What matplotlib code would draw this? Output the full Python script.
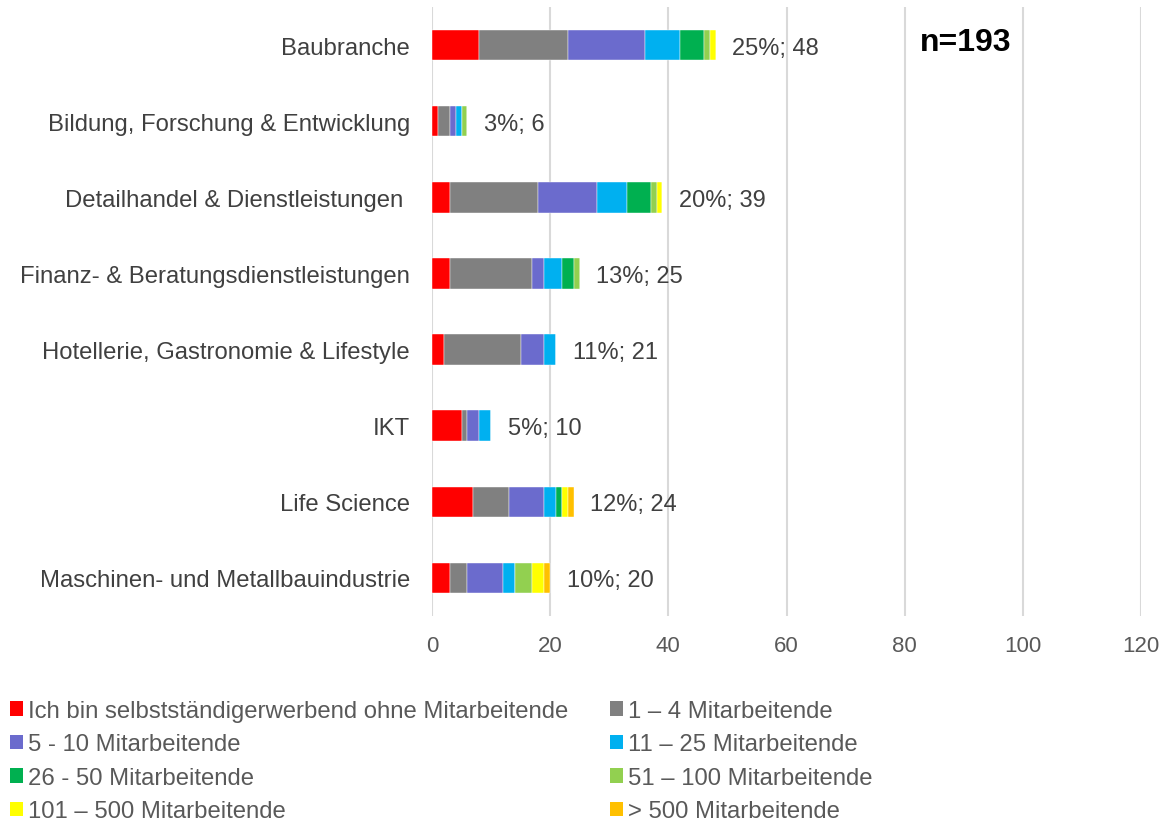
import numpy as np
import matplotlib
matplotlib.use("Agg")
from matplotlib import pyplot as plt
from matplotlib.patches import Patch

plt.rcParams['font.family'] = ['Liberation Sans', 'DejaVu Sans']

# Branchen (von oben nach unten)
branchen = ["Baubranche",
            "Bildung, Forschung & Entwicklung",
            "Detailhandel & Dienstleistungen ",
            "Finanz- & Beratungsdienstleistungen",
            "Hotellerie, Gastronomie & Lifestyle",
            "IKT",
            "Life Science",
            "Maschinen- und Metallbauindustrie"]

# Grössenklassen
klassen = ["Ich bin selbstständigerwerbend ohne Mitarbeitende",
           "1 – 4 Mitarbeitende",
           "5 - 10 Mitarbeitende",
           "11 – 25 Mitarbeitende",
           "26 - 50 Mitarbeitende",
           "51 – 100 Mitarbeitende",
           "101 – 500 Mitarbeitende",
           "> 500 Mitarbeitende"]

farben = ["#FF0000", "#808080", "#6B6BCD", "#00B0F0",
          "#00B050", "#92D050", "#FFFF00", "#FFC000"]

# Anzahl pro Branche und Grössenklasse
selbst   = [8, 1, 3, 3, 2, 5, 7, 3]
ma_1_4   = [15, 2, 15, 14, 13, 1, 6, 3]
ma_5_10  = [13, 1, 10, 2, 4, 2, 6, 6]
ma_11_25 = [6, 1, 5, 3, 2, 2, 2, 2]
ma_26_50 = [4, 0, 4, 2, 0, 0, 1, 0]
ma_51_100 = [1, 1, 1, 1, 0, 0, 0, 3]
ma_101_500 = [1, 0, 1, 0, 0, 0, 1, 2]
ma_500 = [0, 0, 0, 0, 0, 0, 1, 1]

labels_pct = ["25%", "3%", "20%", "13%", "11%", "5%", "12%", "10%"]

serien = [selbst, ma_1_4, ma_5_10, ma_11_25, ma_26_50, ma_51_100, ma_101_500, ma_500]

fig = plt.figure(figsize=(11.73, 8.28), dpi=100)
ax = fig.add_axes([432/1173, 1-617/828, (1141-432)/1173, 609/828])

y = np.arange(len(branchen))
left = np.zeros(len(branchen))
for werte, farbe in zip(serien, farben):
    werte = np.array(werte)
    ax.barh(y, werte, left=left, height=0.4, color=farbe,
            edgecolor='white', linewidth=0.3, zorder=3)
    left += werte

textfarbe = "#404040"
for yi, total, pct in zip(y, left, labels_pct):
    ax.annotate(f"{pct}; {int(total)}", xy=(total, yi), xytext=(12, 0),
                textcoords='offset points', va='center_baseline', ha='left',
                fontsize=17, color=textfarbe)

ax.set_xlim(0, 120)
ax.set_ylim(len(branchen) - 0.5, -0.5)
ax.set_xticks(np.arange(0, 121, 20))
ax.set_yticks(y)
ax.set_yticklabels(branchen, fontsize=17.2, color=textfarbe)
ax.tick_params(axis='x', labelsize=16, labelcolor="#595959", length=0, pad=14)
ax.tick_params(axis='y', length=0, pad=16)
ax.grid(axis='x', color="#D9D9D9", linewidth=1.5, zorder=0)
for s in ax.spines.values():
    s.set_visible(False)

ax.text(0.688, 0.943, "n=193", transform=ax.transAxes, fontsize=23,
        fontweight='bold', color='black', va='center', ha='left')

# Legende in zwei Spalten
handles = [Patch(facecolor=f, edgecolor='none') for f in farben]
for spalte, x0 in [(0, 10), (1, 610)]:
    idx = list(range(spalte, 8, 2))
    fig.legend([handles[i] for i in idx], [klassen[i] for i in idx],
               loc='upper left', bbox_to_anchor=(x0/1173, 1-701/828),
               frameon=False, fontsize=17.2, handlelength=0.55,
               handleheight=0.55, handletextpad=0.2, labelspacing=0.48,
               borderpad=0, borderaxespad=0, labelcolor="#595959")

plt.savefig("out.png", dpi=100)
